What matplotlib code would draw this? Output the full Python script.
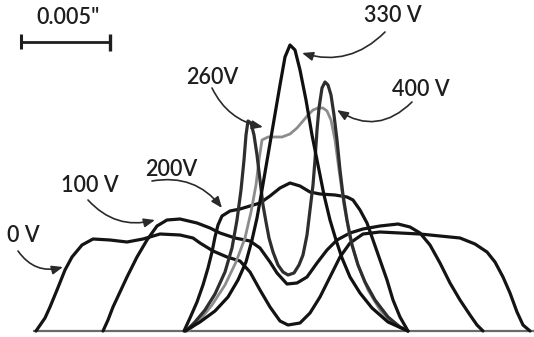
import matplotlib
matplotlib.use("Agg")
import matplotlib.pyplot as plt

# Beam profiles: x position (px across trace), height above baseline
x_0v = [36, 45, 50, 57, 65, 72, 82, 93, 110, 127, 143, 160, 180, 193, 200, 213, 227, 240, 250, 260,
        270, 280, 288, 300, 310, 320, 330, 340, 350, 363, 380, 400, 420, 440, 460, 475, 487, 495, 503,
        510, 517, 523, 530]
h_0v = [0, 13, 24, 41, 61, 74, 86, 92, 91, 89, 92, 97, 96, 93, 88, 80, 74, 70, 59, 41,
        24, 10, 6, 8, 18, 34, 54, 74, 88, 97, 99, 98, 97, 95, 93, 87, 79, 69, 54,
        38, 19, 6, 0]

x_100v = [103, 108, 113, 120, 127, 137, 147, 157, 167, 180, 197, 210, 220, 235, 250, 260, 270, 277,
          287, 297, 307, 317, 327, 337, 350, 363, 380, 398, 410, 420, 430, 440, 450, 460, 470, 477, 483]
h_100v = [0, 11, 24, 39, 54, 74, 91, 105, 111, 112, 108, 103, 98, 93, 90, 83, 69, 58,
          47, 48, 54, 68, 81, 91, 98, 102, 105, 107, 104, 98, 86, 68, 48, 31, 16, 6, 0]

x_200v = [184, 190, 197, 203, 208, 212, 215, 218, 222, 230, 240, 250, 260, 270, 280, 290, 300, 310,
          320, 335, 347, 353, 360, 367, 373, 380, 387, 393, 400, 408]
h_200v = [0, 13, 29, 46, 63, 79, 94, 106, 115, 120, 122, 125, 128, 135, 143, 148, 145, 139,
          137, 136, 134, 131, 121, 108, 91, 71, 51, 31, 14, 0]

x_260v = [188, 200, 212, 225, 236, 245, 251, 256, 259, 262, 268, 275, 282, 290, 297, 303, 308, 313,
          318, 323, 327, 331, 335, 339, 344, 350, 358, 368, 380, 393, 408]
h_260v = [0, 11, 26, 46, 69, 93, 119, 146, 171, 191, 194, 194, 194, 197, 203, 210, 216, 221,
          223, 223, 220, 211, 191, 161, 126, 93, 66, 41, 21, 7, 0]

x_330v = [185, 200, 215, 228, 238, 246, 252, 257, 262, 268, 274, 280, 285, 290, 295, 300, 306, 312,
          318, 324, 330, 336, 342, 350, 360, 372, 388, 408]
h_330v = [0, 9, 20, 34, 51, 69, 91, 113, 141, 176, 211, 246, 274, 286, 281, 261, 231, 196,
          166, 136, 111, 91, 73, 54, 38, 23, 9, 0]

x_400v = [186, 195, 205, 215, 225, 232, 237, 241, 244, 246, 248, 251, 254, 257, 260, 263, 266, 269,
          273, 278, 283, 288, 294, 299, 303, 307, 310, 313, 315, 317, 319, 322, 325, 328, 331, 334,
          337, 340, 343, 347, 352, 358, 365, 375, 388, 400, 408]
h_400v = [0, 9, 21, 37, 59, 83, 111, 141, 171, 196, 210, 208, 196, 176, 151, 126, 109, 93,
          79, 66, 59, 56, 58, 66, 76, 96, 121, 146, 171, 201, 223, 243, 249, 246, 236, 216,
          191, 161, 136, 111, 86, 66, 49, 31, 14, 4, 0]

labels = ["0 V", "100 V", "200V", "260V", "330 V", "400 V"]
label_pos = [(23, 95), (90, 145), (171, 161), (212, 253), (393, 315), (421, 241)]
arrow_start = [(18, 80), (88, 131), (152, 150), (212, 243), (385, 299), (412, 229)]
arrow_end = [(63, 64), (155, 111), (222, 123), (263, 204), (302, 278), (337, 221)]
arrow_rad = [0.35, 0.3, -0.3, 0.25, -0.3, -0.4]

scale_label = '0.005"'

fig = plt.figure(figsize=(5.34, 3.37), dpi=100)
ax = fig.add_axes([0, 0, 1, 1])
ax.set_xlim(0, 534)
ax.set_ylim(-6, 331)
ax.axis("off")

# baseline
ax.plot([33, 534], [0, 0], color="#6a6a6a", lw=1.6, solid_capstyle="butt")

kw = dict(solid_joinstyle="round", solid_capstyle="round")
ax.plot(x_0v, h_0v, color="#141414", lw=2.3, **kw)
ax.plot(x_100v, h_100v, color="#141414", lw=2.3, **kw)
ax.plot(x_200v, h_200v, color="#141414", lw=2.3, **kw)
ax.plot(x_260v, h_260v, color="#8c8c8c", lw=2.0, **kw)
ax.plot(x_400v, h_400v, color="#2e2e2e", lw=2.3, **kw)
ax.plot(x_330v, h_330v, color="#101010", lw=2.3, **kw)

font = ["Lato", "DejaVu Sans"]
for lab, pos, s, e, r in zip(labels, label_pos, arrow_start, arrow_end, arrow_rad):
    ax.text(pos[0], pos[1], lab, ha="center", va="center", fontsize=15.5,
            family=font, fontweight="semibold", color="#1e1e1e")
    ax.annotate("", xy=e, xytext=s,
                arrowprops=dict(arrowstyle="-|>,head_length=0.55,head_width=0.22",
                                connectionstyle=f"arc3,rad={r}", color="#2a2a2a",
                                lw=1.2, shrinkA=0, shrinkB=0, mutation_scale=12))

# scale bar
ax.plot([21, 110], [289, 289], color="#1e1e1e", lw=2.0, solid_capstyle="butt")
ax.plot([21, 21], [282, 297], color="#1e1e1e", lw=2.2, solid_capstyle="butt")
ax.plot([110, 110], [280, 297], color="#1e1e1e", lw=2.4, solid_capstyle="butt")
ax.text(68, 314, scale_label, ha="center", va="center", fontsize=15.5,
        family=font, fontweight="semibold", color="#1e1e1e")

fig.savefig("out.png", dpi=100)
